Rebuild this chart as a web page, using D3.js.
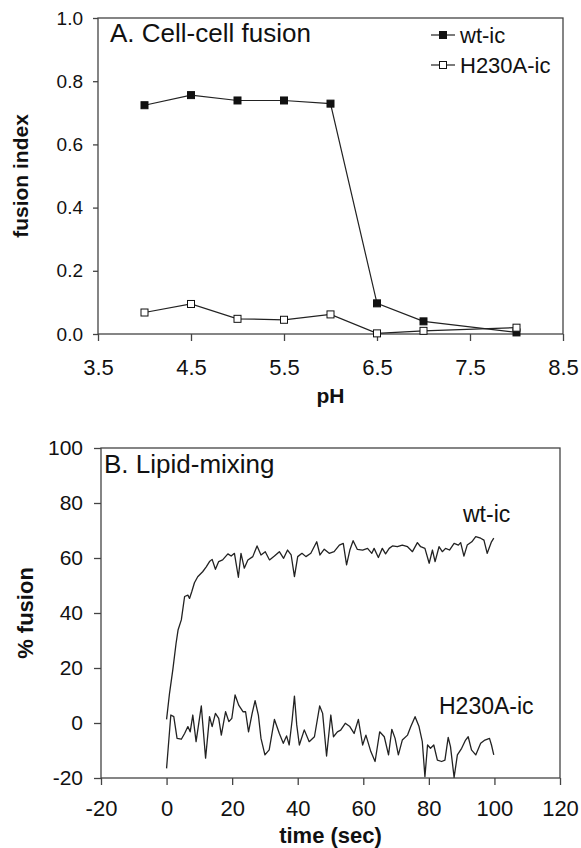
<!DOCTYPE html>
<html lang="en">

<head>
    <meta charset="utf-8">
    <title>Cell-cell fusion and lipid mixing</title>
    <style type="text/css">
        body {
            margin: 0;
            background: #fff;
        }

        svg text {
            font-family: 'Liberation Sans', Arial, sans-serif;
            fill: #111;
        }
    </style>
    <script type="text/javascript" src="https://d3js.org/d3.v7.min.js"></script>
</head>

<body>
    <script type="text/javascript">
        /* PANEL A DATA */
        var phValues = [4, 4.5, 5, 5.5, 6, 6.5, 7, 8];
        var wtIndex = [0.724, 0.756, 0.739, 0.739, 0.729, 0.097, 0.040, 0.005];
        var h230aIndex = [0.068, 0.095, 0.048, 0.045, 0.062, 0.002, 0.010, 0.020];
        var phTicks = [3.5, 4.5, 5.5, 6.5, 7.5, 8.5];
        var indexTicks = [0, 0.2, 0.4, 0.6, 0.8, 1.0];
        var legendNames = ["wt-ic", "H230A-ic"];

        /* PANEL B DATA: [time (sec), % fusion] */
        var wtTrace = [[0, 1.3], [0.9, 10.8], [1.9, 19.3], [2.9, 29], [3.5, 33.8], [4.5, 37.5], [5.5, 46], [6.5, 46.5],
            [7, 45.3], [7.7, 47.8], [8.5, 51], [9.5, 53.2], [11, 55], [12.1, 56.8], [13.1, 58.7], [13.9, 59.5],
            [14.9, 55.9], [15.9, 58.7], [17.1, 59.3], [18.7, 61.5], [19.7, 60.7], [20.7, 61.7], [21.9, 53],
            [22.7, 61.7], [23.7, 56.3], [24.8, 59.3], [26.3, 60.5], [27.6, 64.4], [28.8, 61.1], [30.1, 62.3],
            [31.4, 59.3], [32.9, 60.7], [34.4, 62.3], [35.7, 59.9], [36.9, 62.9], [38, 61.1], [39, 53.2],
            [40, 60.5], [41.3, 61.7], [42.5, 60.5], [44, 61.7], [45.8, 65.9], [46.8, 61.1], [48.1, 63.2],
            [49.6, 61.7], [51.1, 62.3], [52.7, 64.7], [53.9, 65.3], [54.9, 57.5], [55.9, 62.9], [56.9, 66.3],
            [58.2, 63.1], [59.8, 62.9], [61.3, 63.5], [62.6, 61.7], [63.3, 63.5], [64.6, 60.2], [65.8, 63.5],
            [66.8, 61.5], [67.9, 63.5], [68.9, 64.4], [70.4, 64.1], [71.9, 64.7], [73.5, 64.1], [75, 62.3],
            [76.5, 65.6], [77.5, 64.1], [78.8, 63.5], [80.1, 58.1], [81.1, 62.9], [81.9, 58.7], [83.1, 64.1],
            [84.1, 62.3], [85.1, 63.5], [86.3, 62.9], [87.7, 65.3], [89, 64.7], [89.7, 65.6], [90.7, 60.7],
            [91.7, 64.7], [93.1, 65.9], [94.3, 67.8], [95.8, 67.2], [96.8, 66.5], [97.8, 61.7], [99.1, 65.9],
            [99.8, 67.2]];

        var h230aTrace = [[0, -16.5], [1.3, 2.9], [2.2, 2.3], [3.2, -5.6], [4.5, -5.9], [5.5, -3.8], [6.5, -1.3],
            [7.2, -3.2], [8, 2.9], [9, -6.8], [10.6, 6.2], [11.9, -12.8], [13.1, 2.3], [13.9, -1.3], [14.9, 3.5],
            [15.9, 1.7], [16.7, -4.4], [18, 4.1], [19, 0.5], [19.9, 1.7], [20.9, 10.2], [22, 6.5], [23.3, 4.1],
            [24.1, 4.1], [25, -3.2], [26.1, 3.5], [27, 8.1], [28, 2.9], [28.8, -5.6], [30, -11.6], [31.3, -9.8],
            [32.9, 1.3], [34.4, -3.8], [35.6, -7.4], [36.6, -4.7], [37.4, -8], [38.3, 1.1], [39, 9.8],
            [39.7, -0.7], [40.5, -8], [42, -2.5], [43.5, -6.8], [45.1, -5], [46.7, 6.2], [47.6, 3.5],
            [48.8, -12], [50.1, 2.9], [50.9, -5], [52.1, -3.2], [53.1, -2.6], [54.5, -0.1], [55.9, -1.3],
            [57.2, -3.8], [58.5, 1.3], [59.8, -8], [60.8, -4.4], [62.3, -10.4], [63.6, -14], [65, -3.2],
            [66.4, -5], [67.7, -11.6], [68.7, -2.3], [69.7, -5.6], [70.7, -11.6], [71.9, -6.2], [73.5, -4.4],
            [74.5, -1.3], [75.8, 2.3], [77, -1.3], [78, -6.8], [78.8, -19.5], [79.6, -8], [80.5, -9.2],
            [81.5, -8], [82.6, -13.5], [83.9, -14], [84.9, -13.5], [85.9, -5.2], [86.6, -8.6], [87.7, -19.8],
            [88.7, -11.6], [90, -9.2], [91.2, -6.2], [92, -5], [93, -9.8], [94.3, -11.6], [95.8, -7.4],
            [97.1, -6.2], [98.5, -5.6], [99.1, -8], [99.8, -11.6]];

        var timeTicks = [-20, 0, 20, 40, 60, 80, 100, 120];
        var pctTicks = [-20, 0, 20, 40, 60, 80, 100];

        var svgW = 581;
        var svgH = 848;
        var ink = "#222";
        var axisCol = "#444";

        var svg = d3.select("body").append("svg")
            .attr("width", svgW)
            .attr("height", svgH);

        // plain hyphen for negatives, like the original figure
        var plainInt = function (d) { return String(d); };

        function styleAxis(g, fontSize) {
            g.select(".domain").remove();
            g.selectAll(".tick line").attr("stroke", axisCol).attr("stroke-width", 1.3);
            g.selectAll(".tick text")
                .attr("fill", "#111")
                .style("font-family", "'Liberation Sans', Arial, sans-serif")
                .style("font-size", fontSize + "px");
        }

        /* ================= PANEL A ================= */

        var xA = d3.scaleLinear().domain([3.5, 8.5]).range([98, 563]);
        var yA = d3.scaleLinear().domain([0, 1]).range([334, 18]);

        var gA = svg.append("g");

        gA.append("g")
            .attr("transform", "translate(0," + yA(0) + ")")
            .call(d3.axisBottom(xA).tickValues(phTicks).tickFormat(d3.format(".1f"))
                .tickSize(7).tickSizeOuter(0).tickPadding(18))
            .call(styleAxis, 22);

        gA.append("g")
            .attr("transform", "translate(" + xA(3.5) + ",0)")
            .call(d3.axisLeft(yA).tickValues(indexTicks).tickFormat(d3.format(".1f"))
                .tickSize(5).tickSizeOuter(0).tickPadding(10))
            .call(styleAxis, 19);

        gA.append("rect")
            .attr("x", xA(3.5))
            .attr("y", yA(1))
            .attr("width", xA(8.5) - xA(3.5))
            .attr("height", yA(0) - yA(1))
            .attr("fill", "none")
            .attr("stroke", axisCol)
            .attr("stroke-width", 1.3);

        var lineA = d3.line()
            .x(function (d) { return xA(d[0]); })
            .y(function (d) { return yA(d[1]); });

        var seriesA = [
            { pts: d3.zip(phValues, wtIndex), fill: "#111" },
            { pts: d3.zip(phValues, h230aIndex), fill: "#fff" }
        ];

        var mk = 7;
        seriesA.forEach(function (s) {
            gA.append("path")
                .attr("d", lineA(s.pts))
                .attr("fill", "none")
                .attr("stroke", ink)
                .attr("stroke-width", 1.2);

            gA.selectAll(null)
                .data(s.pts)
                .enter().append("rect")
                .attr("x", function (d) { return xA(d[0]) - mk / 2; })
                .attr("y", function (d) { return yA(d[1]) - mk / 2; })
                .attr("width", mk)
                .attr("height", mk)
                .attr("fill", s.fill)
                .attr("stroke", "#111")
                .attr("stroke-width", 1);
        });

        gA.append("text")
            .text("A. Cell-cell fusion")
            .attr("x", 110)
            .attr("y", 42)
            .style("font-size", "26px");

        /* legend */
        seriesA.forEach(function (s, i) {
            var ly = 35 + i * 30;
            gA.append("line")
                .attr("x1", 431).attr("x2", 455)
                .attr("y1", ly).attr("y2", ly)
                .attr("stroke", ink)
                .attr("stroke-width", 1.2);
            gA.append("rect")
                .attr("x", 443 - mk / 2)
                .attr("y", ly - mk / 2)
                .attr("width", mk).attr("height", mk)
                .attr("fill", s.fill)
                .attr("stroke", "#111")
                .attr("stroke-width", 1);
            gA.append("text")
                .text(legendNames[i])
                .attr("x", 460)
                .attr("y", ly + 8)
                .style("font-size", "22px");
        });

        gA.append("text")
            .text("pH")
            .attr("x", (xA(3.5) + xA(8.5)) / 2)
            .attr("y", 403)
            .attr("text-anchor", "middle")
            .style("font-size", "21px")
            .style("font-weight", "bold");

        gA.append("text")
            .text("fusion index")
            .attr("transform", "translate(28," + ((yA(0) + yA(1)) / 2) + ") rotate(-90)")
            .attr("text-anchor", "middle")
            .style("font-size", "21px")
            .style("font-weight", "bold");

        /* ================= PANEL B ================= */

        var xB = d3.scaleLinear().domain([-20, 120]).range([101, 560]);
        var yB = d3.scaleLinear().domain([-20, 100]).range([778, 448]);

        var gB = svg.append("g");

        gB.append("g")
            .attr("transform", "translate(0," + yB(-20) + ")")
            .call(d3.axisBottom(xB).tickValues(timeTicks).tickFormat(plainInt)
                .tickSize(7).tickSizeOuter(0).tickPadding(15))
            .call(styleAxis, 22);

        gB.append("g")
            .attr("transform", "translate(" + xB(-20) + ",0)")
            .call(d3.axisLeft(yB).tickValues(pctTicks).tickFormat(plainInt)
                .tickSize(7).tickSizeOuter(0).tickPadding(11))
            .call(styleAxis, 21);

        gB.append("rect")
            .attr("x", xB(-20))
            .attr("y", yB(100))
            .attr("width", xB(120) - xB(-20))
            .attr("height", yB(-20) - yB(100))
            .attr("fill", "none")
            .attr("stroke", axisCol)
            .attr("stroke-width", 1.3);

        var lineB = d3.line()
            .x(function (d) { return xB(d[0]); })
            .y(function (d) { return yB(d[1]); });

        [wtTrace, h230aTrace].forEach(function (tr) {
            gB.append("path")
                .attr("d", lineB(tr))
                .attr("fill", "none")
                .attr("stroke", ink)
                .attr("stroke-width", 1.3)
                .attr("stroke-linejoin", "round");
        });

        gB.append("text")
            .text("B. Lipid-mixing")
            .attr("x", 104)
            .attr("y", 473)
            .style("font-size", "26px");

        gB.append("text")
            .text("wt-ic")
            .attr("x", 463)
            .attr("y", 522)
            .style("font-size", "23px");

        gB.append("text")
            .text("H230A-ic")
            .attr("x", 439)
            .attr("y", 714)
            .style("font-size", "23px");

        gB.append("text")
            .text("time (sec)")
            .attr("x", (xB(-20) + xB(120)) / 2)
            .attr("y", 843)
            .attr("text-anchor", "middle")
            .style("font-size", "22px")
            .style("font-weight", "bold");

        gB.append("text")
            .text("% fusion")
            .attr("transform", "translate(33," + ((yB(-20) + yB(100)) / 2) + ") rotate(-90)")
            .attr("text-anchor", "middle")
            .style("font-size", "22px")
            .style("font-weight", "bold");
    </script>
</body>

</html>
